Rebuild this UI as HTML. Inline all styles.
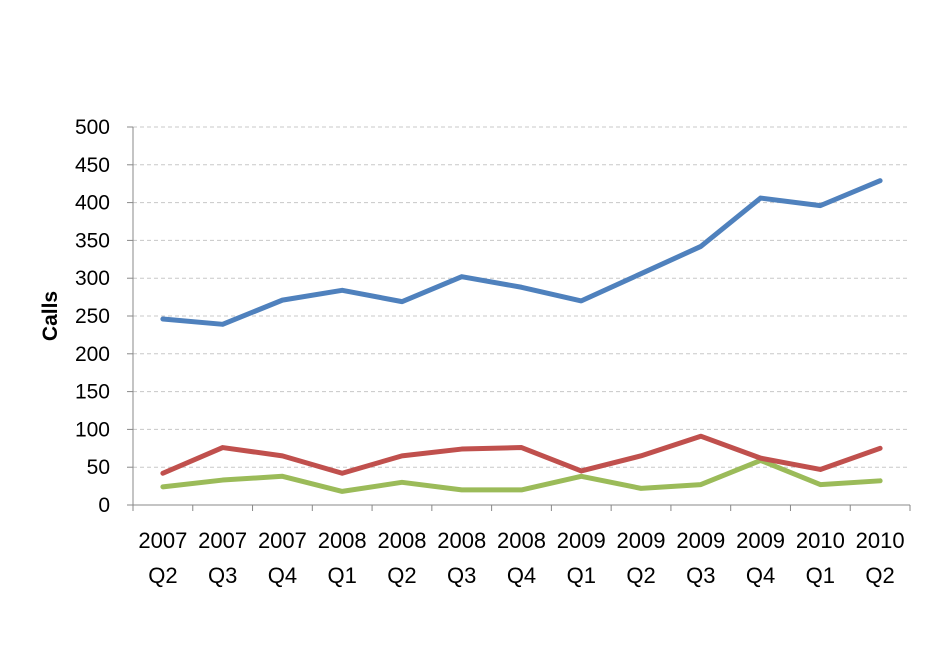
<!DOCTYPE html>
<html><head><meta charset="utf-8"><style>
body{margin:0;background:#fff;}
svg text{font-family:"Liberation Sans",sans-serif;fill:#000;}
</style></head><body>
<svg id="chart" width="926" height="641" xmlns="http://www.w3.org/2000/svg"></svg>
<script>
const categoriesYear = ["2007","2007","2007","2008","2008","2008","2008","2009","2009","2009","2009","2010","2010"];
const categoriesQuarter = ["Q2","Q3","Q4","Q1","Q2","Q3","Q4","Q1","Q2","Q3","Q4","Q1","Q2"];
const seriesBlue = [246,239,271,284,269,302,288,270,306,342,406,396,429];
const seriesRed = [42,76,65,42,65,74,76,45,65,91,62,47,75];
const seriesGreen = [24,33,38,18,30,20,20,38,22,27,59,27,32];
const yTicks = [0,50,100,150,200,250,300,350,400,450,500];

const NS="http://www.w3.org/2000/svg";
const svg=document.getElementById('chart');
const x0=133,x1=910,y0=505,y1=127,yMax=500;
const n=categoriesYear.length, bw=(x1-x0)/n;
function xs(i){return x0+bw*(i+0.5);}
function ys(v){return y0-(v/yMax)*(y0-y1);}
function mk(tag,attrs){const e=document.createElementNS(NS,tag);for(const k in attrs)e.setAttribute(k,attrs[k]);svg.appendChild(e);return e;}

yTicks.forEach(t=>{
  if(t>0){
    const g=mk('line',{x1:x0,x2:x1,y1:ys(t),y2:ys(t),stroke:'#c8c8c8','stroke-width':1,'stroke-dasharray':'4,3'});
    
    
  }
  const tk=mk('line',{x1:x0-6,x2:x0,y1:ys(t),y2:ys(t),stroke:'#888','stroke-width':1});
  
  
  const lb=mk('text',{x:x0-23,y:ys(t)+7,'text-anchor':'end','font-size':21});
  lb.textContent=t;
  
  
});
const ya=mk('line',{x1:x0,x2:x0,y1:y1,y2:y0,stroke:'#888','stroke-width':1});


const xa=mk('line',{x1:x0,x2:x1,y1:y0,y2:y0,stroke:'#888','stroke-width':1});


for(let i=0;i<=n;i++){
  const t=mk('line',{x1:x0+bw*i,x2:x0+bw*i,y1:y0,y2:y0+6,stroke:'#888','stroke-width':1});
  
  
}
categoriesYear.forEach((c,i)=>{
  const a=mk('text',{x:xs(i),y:548,'text-anchor':'middle','font-size':22});
  a.textContent=c;
  
  
  const b=mk('text',{x:xs(i),y:583,'text-anchor':'middle','font-size':22});
  b.textContent=categoriesQuarter[i];
  
  
});
const yt=mk('text',{x:0,y:0,'text-anchor':'middle','font-size':21,'font-weight':'bold',transform:'translate(57,316) rotate(-90)'});
yt.textContent='Calls';



function series(vals,color,name){
  const p=mk('polyline',{points:vals.map((v,i)=>xs(i)+','+ys(v)).join(' '),fill:'none',stroke:color,'stroke-width':5,'stroke-linejoin':'round','stroke-linecap':'round'});
  
  
}
series(seriesGreen,'#9bbb59','series-green-line');
series(seriesRed,'#c0504d','series-red-line');
series(seriesBlue,'#4f81bd','series-blue-line');
</script>
</body></html>
